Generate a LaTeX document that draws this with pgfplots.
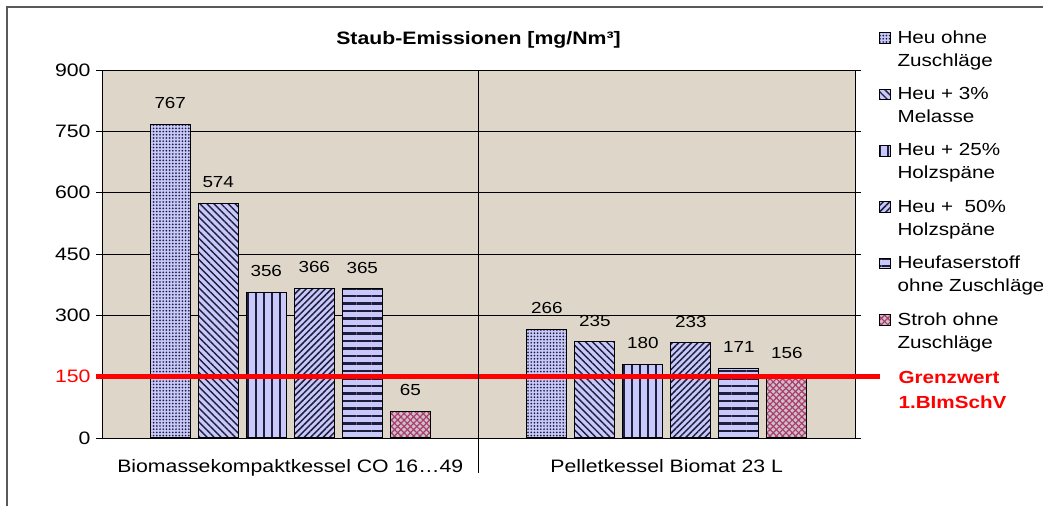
\documentclass[border=0pt]{standalone}
\usepackage{fontspec}
\setmainfont{Liberation Sans}[FakeStretch=1.18]
\usepackage{pgfplots}
\pgfplotsset{compat=1.18}
\usetikzlibrary{patterns.meta}
\definecolor{bg}{RGB}{222,214,201}
\definecolor{lav}{RGB}{200,200,250}
\definecolor{pat}{RGB}{30,30,60}
\definecolor{strohbg}{RGB}{206,192,200}
\definecolor{strohpat}{RGB}{170,60,110}
\newcommand{\tickfont}{\fontsize{18bp}{21bp}\selectfont}
\newcommand{\valfont}{\fontsize{16bp}{18bp}\selectfont}
\newcommand{\legfont}{\fontsize{17.5bp}{23bp}\selectfont}
\newcommand{\catfont}{\fontsize{18bp}{20bp}\selectfont}
\newcommand{\titfont}{\fontsize{18bp}{20bp}\selectfont\bfseries}
\pgfplotstableread{
x s1 s2 s3 s4 s5 s6
0 767 574 356 366 365 65
1 266 235 180 233 171 156
}\data
\pgfplotsset{
  mybar/.style={ybar, bar width=40bp, draw=black, line width=1bp,
    nodes near coords,
    nodes near coords style={font=\valfont, anchor=south, inner sep=0pt, yshift=15bp, text=black},
    legend image code/.code={\draw[##1, line width=0.8bp] (0bp,6bp) rectangle (10.5bp,16.5bp);}},
}
\begin{document}
\begin{tikzpicture}
\path[use as bounding box, fill=white] (0bp,0bp) rectangle (1043bp,506bp);
\draw[black!65, line width=1.3bp] (7bp,0bp) -- (7bp,499bp) -- (1043bp,499bp);
\begin{axis}[
  at={(102bp,68bp)}, anchor=south west,
  scale only axis, width=753bp, height=368bp,
  xmin=-0.5, xmax=1.5, ymin=0, ymax=900,
  clip=false,
  /pgf/number format/assume math mode=true,
  ytick={0,150,...,900},
  yticklabels={0,\textcolor{red}{150},300,450,600,750,900},
  xtick={0,1},
  xticklabels={Biomassekompaktkessel CO 16…49, Pelletkessel Biomat 23 L},
  x tick label style={font=\catfont, yshift=-12bp},
  y tick label style={font=\tickfont, xshift=-2bp},
  x tick style={draw=none},
  y tick style={black, line width=0.8bp},
  tick align=outside, major tick length=6bp,
  ymajorgrids, grid style={black, line width=0.7bp},
  axis line style={black, line width=0.8bp},
  axis background/.style={fill=bg},
  title={Staub-Emissionen [mg/Nm³]},
  title style={font=\titfont, anchor=base, at={(axis description cs:0.5,1)}, yshift=20bp},
  legend style={draw=none, fill=none, font=\legfont,
    at={(axis description cs:1.028,1.118)}, anchor=north west,
    cells={anchor=west, align=left}, row sep=15.5bp,
    /tikz/every odd column/.append style={column sep=5bp}},
]
\addplot[mybar, bar shift=-120bp, nodes near coords style={xshift=-120bp}, fill=lav, postaction={pattern={Dots[distance=3.2bp, radius=0.95bp]}, pattern color=pat}] table[x=x, y=s1] {\data};
\addplot[mybar, bar shift=-72bp, nodes near coords style={xshift=-72bp}, fill=lav, postaction={pattern={Lines[angle=-45, distance=5bp, line width=1.4bp]}, pattern color=pat}] table[x=x, y=s2] {\data};
\addplot[mybar, bar shift=-24bp, nodes near coords style={xshift=-24bp}, fill=lav, postaction={pattern={Lines[angle=90, distance=8bp, line width=2.2bp]}, pattern color=pat}] table[x=x, y=s3] {\data};
\addplot[mybar, bar shift=24bp, nodes near coords style={xshift=24bp}, fill=lav, postaction={pattern={Lines[angle=45, distance=4.5bp, line width=1.5bp]}, pattern color=pat}] table[x=x, y=s4] {\data};
\addplot[mybar, bar shift=72bp, nodes near coords style={xshift=72bp}, fill=lav, postaction={pattern={Lines[angle=0, distance=7.5bp, line width=2.2bp]}, pattern color=pat}] table[x=x, y=s5] {\data};
\addplot[mybar, bar shift=120bp, nodes near coords style={xshift=120bp}, fill=strohbg, postaction={pattern={Lines[angle=45, distance=4.5bp, line width=1.2bp]}, pattern color=strohpat}, postaction={pattern={Lines[angle=-45, distance=4.5bp, line width=1.2bp]}, pattern color=strohpat}] table[x=x, y=s6] {\data};
\legend{Heu ohne\\Zuschläge, Heu + 3\%\\Melasse, Heu + 25\%\\Holzspäne, Heu +\ \ 50\%\\Holzspäne, Heufaserstoff\\ohne Zuschläge, Stroh ohne\\Zuschläge}
\addplot[sharp plot, red, line width=5bp, forget plot] coordinates {(-0.516,150) (1.566,150)};
\addplot[sharp plot, black, line width=1bp, forget plot] coordinates {(0.5,900) (0.5,-86)};
\end{axis}
\node[anchor=west, align=left, text=red, font=\fontsize{17.5bp}{25bp}\selectfont\bfseries] at (895bp,116bp) {Grenzwert\\1.BImSchV};
\end{tikzpicture}
\end{document}
